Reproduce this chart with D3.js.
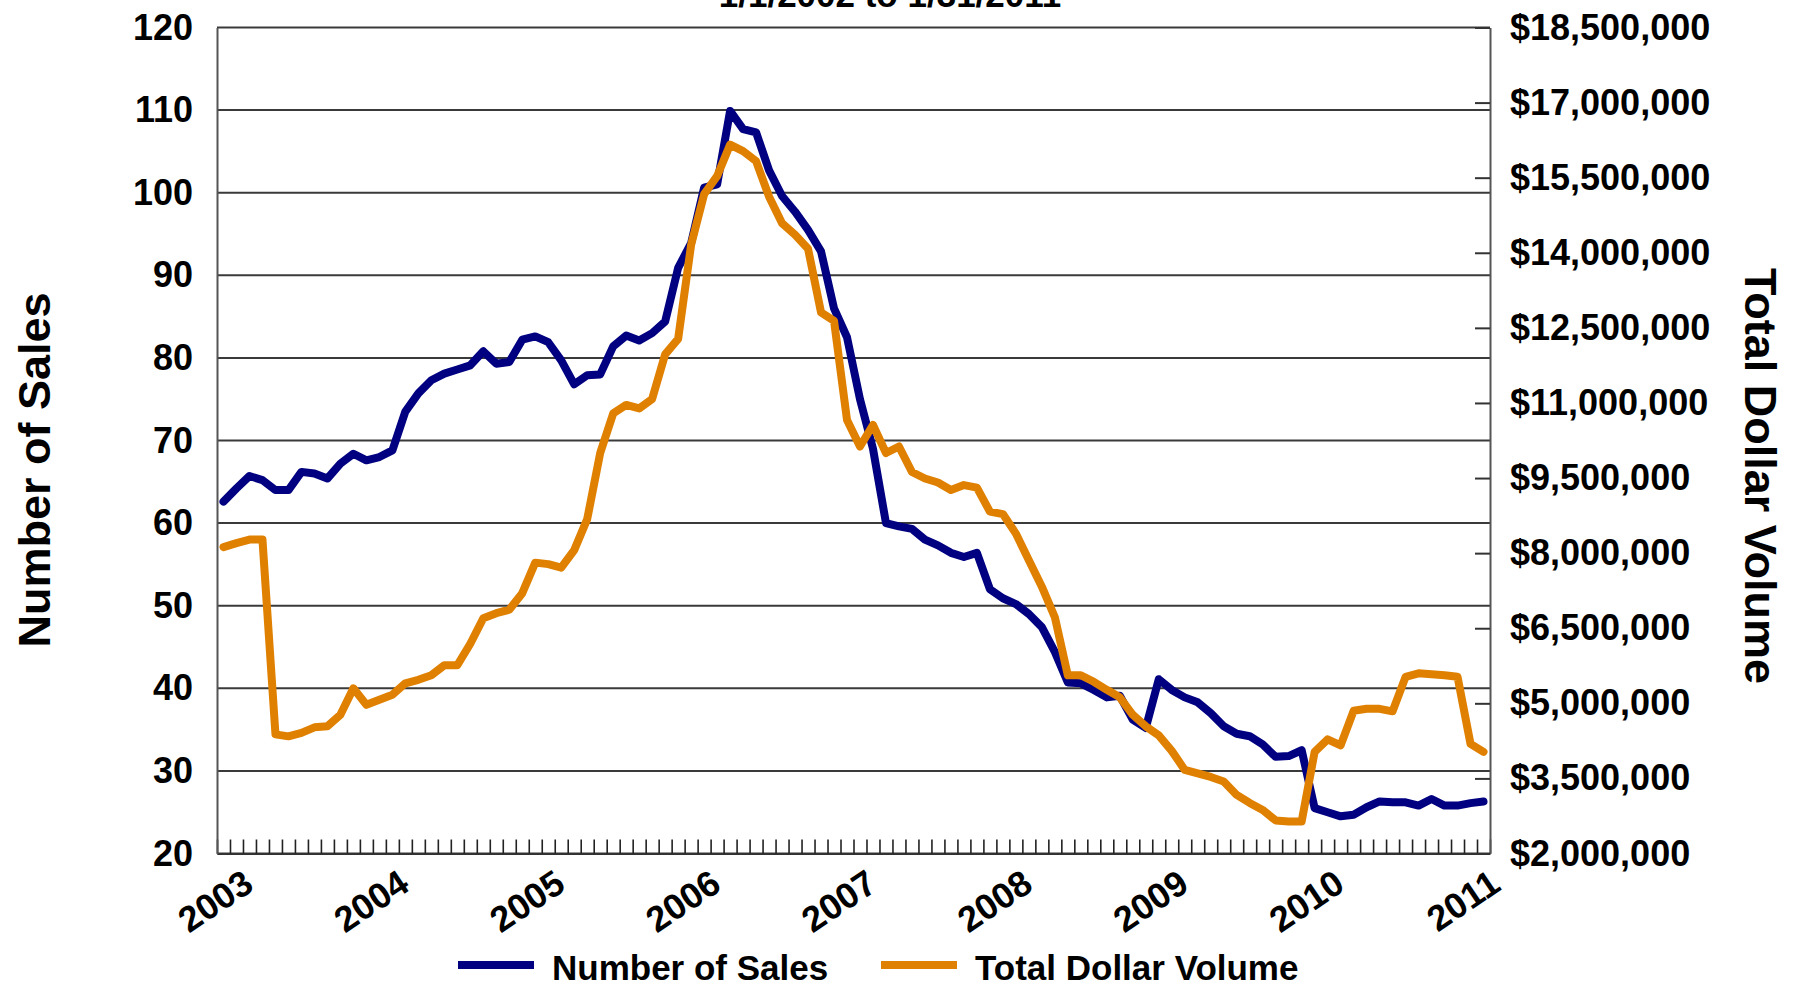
<!DOCTYPE html>
<html>
<head>
<meta charset="utf-8">
<script src="https://cdn.jsdelivr.net/npm/d3@7"></script>
<style>
body { margin: 0; background: #fff; }
svg { display: block; font-family: "Liberation Sans", Arial, sans-serif; font-weight: bold; }
</style>
</head>
<body>
<svg id="chart"></svg>
<script>
// monthly categories, Dec 2002 .. Jan 2011
var months = d3.timeMonth.range(new Date(2002, 11, 1), new Date(2011, 1, 1));

var yearLabels = ["2003","2004","2005","2006","2007","2008","2009","2010","2011"];
var salesTicks = [20,30,40,50,60,70,80,90,100,110,120];
var volumeTicks = [2000000,3500000,5000000,6500000,8000000,9500000,11000000,12500000,14000000,15500000,17000000,18500000];

var sales = [
  62.6,64.2,65.7,65.2,64.0,64.0,66.2,66.0,65.4,67.2,68.4,67.6,68.0,68.8,73.5,75.7,77.3,78.1,78.6,79.1,
  80.8,79.3,79.5,82.2,82.6,81.9,79.7,76.8,77.9,78.0,81.4,82.7,82.1,83.0,84.4,90.9,93.9,100.6,101.0,109.9,
  107.7,107.3,102.7,99.6,97.7,95.5,92.9,86.0,82.5,75.0,69.0,60.0,59.6,59.3,58.0,57.3,56.4,55.9,56.4,52.0,
  50.9,50.2,49.0,47.4,44.4,40.7,40.6,39.8,38.9,39.1,36.2,35.2,41.1,39.8,38.9,38.3,37.0,35.4,34.5,34.2,
  33.2,31.7,31.8,32.5,25.5,25.0,24.5,24.7,25.6,26.3,26.2,26.2,25.8,26.6,25.8,25.8,26.1,26.3
];

var volume = [
  8120000,8200000,8270000,8270000,4380000,4340000,4410000,4520000,4540000,4770000,
  5300000,4970000,5070000,5170000,5400000,5470000,5560000,5760000,5760000,6190000,
  6700000,6800000,6870000,7200000,7810000,7780000,7710000,8060000,8680000,10000000,
  10790000,10960000,10890000,11080000,11970000,12280000,14160000,15170000,15530000,16160000,
  16030000,15830000,15120000,14590000,14360000,14080000,12810000,12640000,10660000,10130000,
  10560000,10000000,10130000,9620000,9490000,9410000,9260000,9360000,9310000,8830000,
  8780000,8390000,7860000,7330000,6720000,5560000,5560000,5430000,5270000,5120000,
  4770000,4540000,4360000,4050000,3670000,3600000,3530000,3440000,3170000,3010000,
  2870000,2660000,2640000,2640000,4030000,4280000,4160000,4850000,4890000,4890000,
  4840000,5530000,5600000,5580000,5560000,5530000,4190000,4030000
];

var width = 1794, height = 985;
var plotL = 217, plotR = 1490, plotT = 27.5, plotB = 853.5;

var svg = d3.select("#chart").attr("width", width).attr("height", height);

var x = d3.scaleBand().domain(d3.range(months.length)).range([plotL, plotR]);
var xEdge = d3.scaleLinear().domain([0, months.length]).range([plotL, plotR]);
var yLeft = d3.scaleLinear().domain([20, 120]).range([plotB, plotT]);
var yRight = d3.scaleLinear().domain([2000000, 18500000]).range([plotB, plotT]);

// gridlines
svg.append("g").selectAll("line")
  .data(salesTicks)
  .enter().append("line")
  .attr("x1", plotL).attr("x2", plotR)
  .attr("y1", function(d){ return yLeft(d); })
  .attr("y2", function(d){ return yLeft(d); })
  .attr("stroke", "#3a3a3a")
  .attr("stroke-width", 2);

// bottom axis, monthly ticks pointing up
var xAxis = svg.append("g")
  .attr("transform", "translate(0," + plotB + ")")
  .call(d3.axisBottom(xEdge).tickValues(d3.range(months.length + 1)).tickSizeInner(-14).tickSizeOuter(0).tickFormat(""));
xAxis.select(".domain").attr("stroke", "#333").attr("stroke-width", 2);
xAxis.selectAll(".tick line").attr("stroke", "#222").attr("stroke-width", 1.6);

svg.append("g").selectAll("text")
  .data(yearLabels)
  .enter().append("text")
  .attr("transform", function(d){
    var idx = months.findIndex(function(m){ return m.getFullYear() == +d && m.getMonth() == 0; });
    return "translate(" + (x(idx) + x.bandwidth() / 2 + 19) + ",889) rotate(-34)";
  })
  .attr("text-anchor", "end")
  .style("font-size", "36px")
  .text(function(d){ return d; });

// left axis
var yAxisL = svg.append("g")
  .attr("transform", "translate(" + plotL + ",0)")
  .call(d3.axisLeft(yLeft).tickValues(salesTicks).tickSize(0).tickPadding(24));
yAxisL.attr("font-size", null).attr("font-family", null);
yAxisL.selectAll("text").style("font-size", "36px").attr("fill", "#000");
yAxisL.select(".domain").attr("stroke", "#555").attr("stroke-width", 2);

// right axis
var yAxisR = svg.append("g")
  .attr("transform", "translate(" + plotR + ",0)")
  .call(d3.axisRight(yRight).tickValues(volumeTicks).tickSizeInner(-15).tickSizeOuter(0).tickPadding(20)
    .tickFormat(function(d){ return "$" + d3.format(",")(d); }));
yAxisR.attr("font-size", null).attr("font-family", null);
yAxisR.selectAll("text").style("font-size", "36px").attr("fill", "#000");
yAxisR.select(".domain").attr("stroke", "#555").attr("stroke-width", 2);
yAxisR.selectAll(".tick line").attr("stroke", "#333").attr("stroke-width", 2);

// series
var salesLine = d3.line()
  .x(function(d, i){ return x(i) + x.bandwidth() / 2; })
  .y(function(d){ return yLeft(d); });
var volumeLine = d3.line()
  .x(function(d, i){ return x(i) + x.bandwidth() / 2; })
  .y(function(d){ return yRight(d); });

svg.append("path").datum(sales)
  .attr("d", salesLine)
  .attr("fill", "none").attr("stroke", "#000080")
  .attr("stroke-width", 8).attr("stroke-linejoin", "round").attr("stroke-linecap", "round");

svg.append("path").datum(volume)
  .attr("d", volumeLine)
  .attr("fill", "none").attr("stroke", "#e08000")
  .attr("stroke-width", 8).attr("stroke-linejoin", "round").attr("stroke-linecap", "round");

// titles
svg.append("text")
  .attr("x", 890).attr("y", 7)
  .attr("text-anchor", "middle")
  .style("font-size", "35px")
  .text("1/1/2002 to 1/31/2011");

svg.append("text")
  .attr("transform", "translate(50,470) rotate(-90)")
  .attr("text-anchor", "middle")
  .style("font-size", "45px")
  .text("Number of Sales");

svg.append("text")
  .attr("transform", "translate(1745,476) rotate(90)")
  .attr("text-anchor", "middle")
  .style("font-size", "45px")
  .text("Total Dollar Volume");

// legend
var legend = [
  {name: "Number of Sales", color: "#000080", x: 458},
  {name: "Total Dollar Volume", color: "#e08000", x: 881}
];
var lg = svg.append("g").selectAll("g").data(legend).enter().append("g");
lg.append("line")
  .attr("x1", function(d){ return d.x; })
  .attr("x2", function(d){ return d.x + 76; })
  .attr("y1", 965).attr("y2", 965)
  .attr("stroke", function(d){ return d.color; })
  .attr("stroke-width", 8);
lg.append("text")
  .attr("x", function(d){ return d.x + 94; })
  .attr("y", 980)
  .style("font-size", "35px")
  .text(function(d){ return d.name; });
</script>
</body>
</html>
